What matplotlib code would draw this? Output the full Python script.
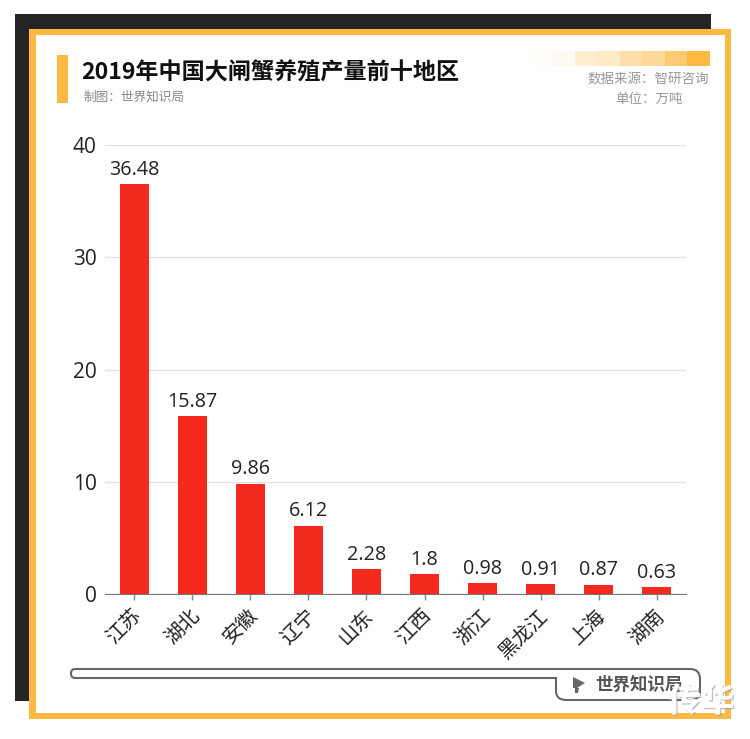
import numpy as np
import matplotlib
matplotlib.use("Agg")
import matplotlib.pyplot as plt
import matplotlib.patheffects as pe
from matplotlib.patches import Rectangle, PathPatch, Polygon
from matplotlib.path import Path
from matplotlib.transforms import ScaledTranslation

plt.rcParams["font.family"] = ["Noto Sans CJK SC", "DejaVu Sans"]

regions = ["江苏", "湖北", "安徽", "辽宁", "山东", "江西", "浙江", "黑龙江", "上海", "湖南"]
values = [36.48, 15.87, 9.86, 6.12, 2.28, 1.8, 0.98, 0.91, 0.87, 0.63]
value_labels = ["36.48", "15.87", "9.86", "6.12", "2.28", "1.8", "0.98", "0.91", "0.87", "0.63"]
y_ticks = [0, 10, 20, 30, 40]

W, H = 750, 739
GOLD = "#fdb942"
GREY = "#666666"

fig = plt.figure(figsize=(W / 100, H / 100), dpi=100)

# background layer in pixel coordinates
bg = fig.add_axes([0, 0, 1, 1], zorder=0)
bg.set_xlim(0, W)
bg.set_ylim(H, 0)
bg.axis("off")
bg.add_patch(Rectangle((15, 14), 696, 687, fc="#242424", ec="none"))
bg.add_patch(Rectangle((29, 29), 702, 690, fc=GOLD, ec="none"))
bg.add_patch(Rectangle((36, 35), 689, 678, fc="white", ec="none"))
bg.add_patch(Rectangle((57, 55), 11, 48, fc=GOLD, ec="none"))

# stepped gradient, top right
grad_alpha = np.array([0.03, 0.06, 0.25, 0.3, 0.45, 0.55, 0.75, 1.0])
grad = np.zeros((1, len(grad_alpha), 4))
grad[..., :3] = matplotlib.colors.to_rgb(GOLD)
grad[..., 3] = grad_alpha
bg.imshow(grad, extent=(530, 710, 66, 51), aspect="auto", interpolation="nearest", zorder=3)
bg.set_xlim(0, W)
bg.set_ylim(H, 0)

bg.text(81, 73, "2019年中国大闸蟹养殖产量前十地区", fontsize=16.65, fontweight="bold",
        color="#111111", va="center", ha="left")
bg.text(83, 97.5, "制图：世界知识局", fontsize=9.1, color="#888888", va="center", ha="left")
bg.text(709, 78.5, "数据来源：智研咨询", fontsize=9.7, color="#999999", va="center", ha="right")
bg.text(683, 98.5, "单位：万吨", fontsize=9.7, color="#999999", va="center", ha="right")

# bottom outline bar
verts = [(75, 669), (690, 669), (700, 669), (700, 679), (700, 691), (700, 700), (691, 700),
         (566, 700), (556, 700), (556, 691), (556, 678), (75, 678), (71, 678), (71, 673.5),
         (71, 669), (75, 669)]
codes = [Path.MOVETO, Path.LINETO, Path.CURVE3, Path.CURVE3, Path.LINETO, Path.CURVE3, Path.CURVE3,
         Path.LINETO, Path.CURVE3, Path.CURVE3, Path.LINETO, Path.LINETO, Path.CURVE3, Path.CURVE3,
         Path.CURVE3, Path.CURVE3]
bg.add_patch(PathPatch(Path(verts, codes), fc="none", ec=GREY, lw=1.5))
bg.add_patch(Polygon([(573, 677), (585, 683), (577, 688), (573, 688)], fc=GREY, ec="none"))
bg.add_patch(Polygon([(575, 688), (579, 688), (578, 693), (575, 693)], fc=GREY, ec="none"))
bg.text(639.5, 685, "世界知识局", fontsize=12.6, fontweight="bold", color="#555555",
        va="center", ha="center")

# chart
ax = fig.add_axes([105 / W, 1 - 594.4 / H, 581 / W, 449.8 / H], zorder=1)
ax.patch.set_alpha(0)
x = np.arange(len(regions))
ax.bar(x, values, width=0.5, color="#f42a1f", zorder=3)
for i, lab in enumerate(value_labels):
    ax.annotate(lab, (x[i], values[i]), xytext=(0, 3), textcoords="offset points",
                ha="center", va="bottom", fontsize=14.2, color="#222222",
                family=["Open Sans", "DejaVu Sans"])
ax.set_xlim(-0.5, 9.5)
ax.set_ylim(0, 40)
ax.set_yticks(y_ticks)
ax.set_yticklabels([str(t) for t in y_ticks], fontsize=15, color="#222222",
                   family=["Open Sans", "DejaVu Sans"])
ax.set_xticks(x)
ax.set_xticklabels(regions, fontsize=14.5, color="#222222", rotation=45, ha="right",
                   rotation_mode="anchor")
ax.tick_params(axis="y", length=0, pad=6)
ax.tick_params(axis="x", length=4, width=1, color="#888888", pad=4)
# nudge the slanted labels left a little, tick_params resets transforms so do it after
nudge = ScaledTranslation(-3 / 100, 0, fig.dpi_scale_trans)
for t in ax.get_xticklabels():
    t.set_transform(t.get_transform() + nudge)
ax.grid(axis="y", color="#e2e2e2", lw=1, zorder=0)
for s in ["top", "right", "left"]:
    ax.spines[s].set_visible(False)
ax.spines["bottom"].set_color("#777777")

# watermark
top = fig.add_axes([0, 0, 1, 1], zorder=2)
top.set_xlim(0, W)
top.set_ylim(H, 0)
top.axis("off")
top.text(701, 702, "传华", fontsize=24, fontweight="bold", color="white", va="center", ha="center",
         path_effects=[pe.withSimplePatchShadow(offset=(1, -1), shadow_rgbFace="#999999", alpha=0.6),
                       pe.Normal()])

fig.savefig("out.png", dpi=100)
